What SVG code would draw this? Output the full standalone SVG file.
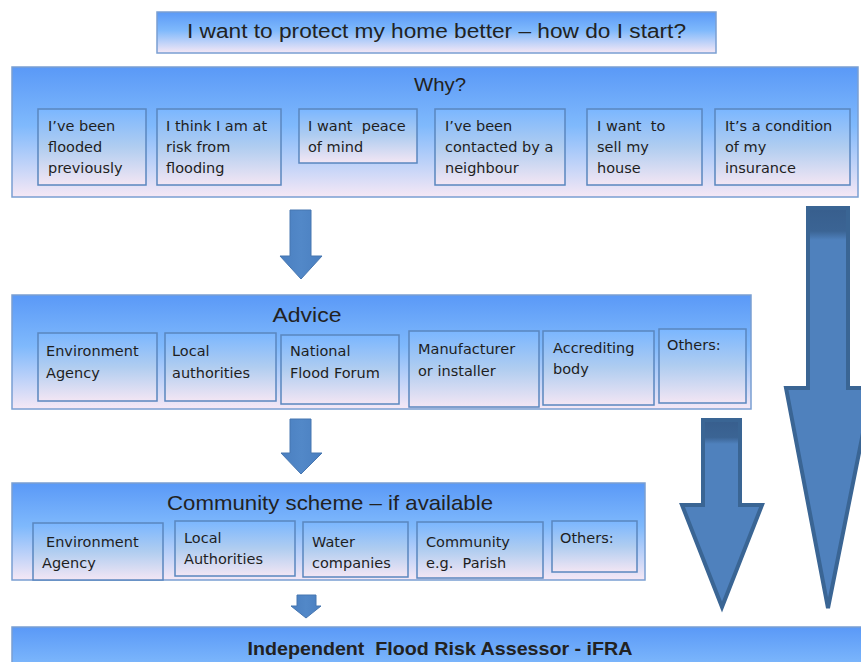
<svg xmlns="http://www.w3.org/2000/svg" width="861" height="662" viewBox="0 0 861 662">
<defs>
<linearGradient id="gOuter" x1="0" y1="0" x2="0" y2="1">
<stop offset="0" stop-color="#5a99f7"/>
<stop offset="0.45" stop-color="#7fb9fc"/>
<stop offset="1" stop-color="#f6e8f5"/>
</linearGradient>
<linearGradient id="gInner" x1="0" y1="0" x2="0" y2="1">
<stop offset="0" stop-color="#7ab6ff"/>
<stop offset="0.5" stop-color="#b0cdf0"/>
<stop offset="1" stop-color="#f3e6f4"/>
</linearGradient>
<linearGradient id="gArrow" x1="0" y1="0" x2="1" y2="0">
<stop offset="0" stop-color="#4a7fc0"/>
<stop offset="0.5" stop-color="#5288c8"/>
<stop offset="1" stop-color="#4a7fc0"/>
</linearGradient>
<linearGradient id="gBand" x1="0" y1="0" x2="0" y2="1">
<stop offset="0" stop-color="#385f8e"/>
<stop offset="0.7" stop-color="#3b6494"/>
<stop offset="1" stop-color="#4f81bd"/>
</linearGradient>
</defs>
<style>
.outer{fill:url(#gOuter);stroke:#7a9fd2;stroke-width:1.5}
.inner{fill:url(#gInner);stroke:#5a86bf;stroke-width:1.5}
.head{font-family:"Liberation Sans",Arial,sans-serif;fill:#222;text-anchor:middle;white-space:pre}
.t{font-family:"DejaVu Sans",Verdana,sans-serif;font-size:14.5px;fill:#1e1e1e;white-space:pre}
.small{fill:url(#gArrow);stroke:#4676b0;stroke-width:1}
.big{fill:#4f81bd;stroke:#3a6594;stroke-width:4;stroke-linejoin:miter}
</style>

<g id="title">
<rect x="157" y="12" width="559" height="41" class="outer"/>
<text x="436.5" y="38" class="head" font-size="20" textLength="499" lengthAdjust="spacingAndGlyphs">I want to protect my home better – how do I start?</text>
</g>

<g id="why">
<rect x="12" y="67" width="846" height="130" class="outer"/>
<text x="440" y="91" class="head" font-size="18" textLength="52" lengthAdjust="spacingAndGlyphs">Why?</text>
<g id="why-1"><rect x="38" y="109" width="108" height="76" class="inner"/>
<text class="t" x="48" y="131">I’ve been</text><text class="t" x="48" y="152">flooded</text><text class="t" x="48" y="173">previously</text></g>
<g id="why-2"><rect x="157" y="109" width="124" height="76" class="inner"/>
<text class="t" x="166" y="131">I think I am at</text><text class="t" x="166" y="152">risk from</text><text class="t" x="166" y="173">flooding</text></g>
<g id="why-3"><rect x="299" y="109" width="118" height="54" class="inner"/>
<text class="t" x="308" y="131">I want  peace</text><text class="t" x="308" y="152">of mind</text></g>
<g id="why-4"><rect x="435" y="109" width="130" height="76" class="inner"/>
<text class="t" x="445" y="131">I’ve been</text><text class="t" x="445" y="152">contacted by a</text><text class="t" x="445" y="173">neighbour</text></g>
<g id="why-5"><rect x="587" y="109" width="115" height="76" class="inner"/>
<text class="t" x="597" y="131">I want  to</text><text class="t" x="597" y="152">sell my</text><text class="t" x="597" y="173">house</text></g>
<g id="why-6"><rect x="715" y="109" width="135" height="76" class="inner"/>
<text class="t" x="725" y="131">It’s a condition</text><text class="t" x="725" y="152">of my</text><text class="t" x="725" y="173">insurance</text></g>
</g>

<g id="advice">
<rect x="12" y="295" width="739" height="114" class="outer"/>
<text x="307" y="322" class="head" font-size="21" textLength="69" lengthAdjust="spacingAndGlyphs">Advice</text>
<g id="advice-1"><rect x="38" y="333" width="119" height="68" class="inner"/>
<text class="t" x="46" y="356">Environment</text><text class="t" x="46" y="378">Agency</text></g>
<g id="advice-2"><rect x="165" y="333" width="111" height="68" class="inner"/>
<text class="t" x="172" y="356">Local</text><text class="t" x="172" y="378">authorities</text></g>
<g id="advice-3"><rect x="281" y="335" width="118" height="69" class="inner"/>
<text class="t" x="290" y="356">National</text><text class="t" x="290" y="378">Flood Forum</text></g>
<g id="advice-4"><rect x="409" y="331" width="130" height="76" class="inner"/>
<text class="t" x="418" y="354">Manufacturer</text><text class="t" x="418" y="376">or installer</text></g>
<g id="advice-5"><rect x="543" y="331" width="111" height="74" class="inner"/>
<text class="t" x="553" y="353">Accrediting</text><text class="t" x="553" y="374">body</text></g>
<g id="advice-6"><rect x="659" y="329" width="87" height="74" class="inner"/>
<text class="t" x="667" y="350">Others:</text></g>
</g>

<g id="community">
<rect x="12" y="483" width="633" height="97" class="outer"/>
<text x="330" y="510" class="head" font-size="21" textLength="326" lengthAdjust="spacingAndGlyphs">Community scheme – if available</text>
<g id="community-1"><rect x="33" y="523" width="130" height="57" class="inner"/>
<text class="t" x="46" y="547">Environment</text><text class="t" x="42" y="568">Agency</text></g>
<g id="community-2"><rect x="175" y="521" width="120" height="55" class="inner"/>
<text class="t" x="184" y="543">Local</text><text class="t" x="184" y="564">Authorities</text></g>
<g id="community-3"><rect x="303" y="522" width="105" height="55" class="inner"/>
<text class="t" x="312" y="547">Water</text><text class="t" x="312" y="568">companies</text></g>
<g id="community-4"><rect x="417" y="522" width="126" height="56" class="inner"/>
<text class="t" x="426" y="547">Community</text><text class="t" x="426" y="568">e.g.  Parish</text></g>
<g id="community-5"><rect x="552" y="521" width="85" height="51" class="inner"/>
<text class="t" x="560" y="543">Others:</text></g>
</g>

<g id="ifra">
<rect x="12" y="627" width="860" height="90" class="outer"/>
<text x="440" y="655" class="head" font-size="18" font-weight="bold" textLength="385" lengthAdjust="spacingAndGlyphs">Independent  Flood Risk Assessor - iFRA</text>
</g>

<g id="connectors">
<polygon class="small" points="290,210 311,210 311,256 322,256 301,279 280,256 290,256"/>
<polygon class="small" points="290,419 311,419 311,453 322,453 301,474 281,453 290,453"/>
<polygon class="small" points="297,595 316,595 316,606 321,606 306,618 291,606 297,606"/>
<g id="big-arrow-b">
<polygon class="big" points="703,420 740,420 740,505 762,505 722,607 682,505 703,505"/>
<rect x="705" y="422" width="33" height="22" fill="url(#gBand)"/>
</g>
<g id="big-arrow-a">
<polygon class="big" points="808,208 848,208 848,388 872,388 828,608 786,388 808,388"/>
<rect x="810" y="210" width="36" height="30" fill="url(#gBand)"/>
</g>
</g>
</svg>
